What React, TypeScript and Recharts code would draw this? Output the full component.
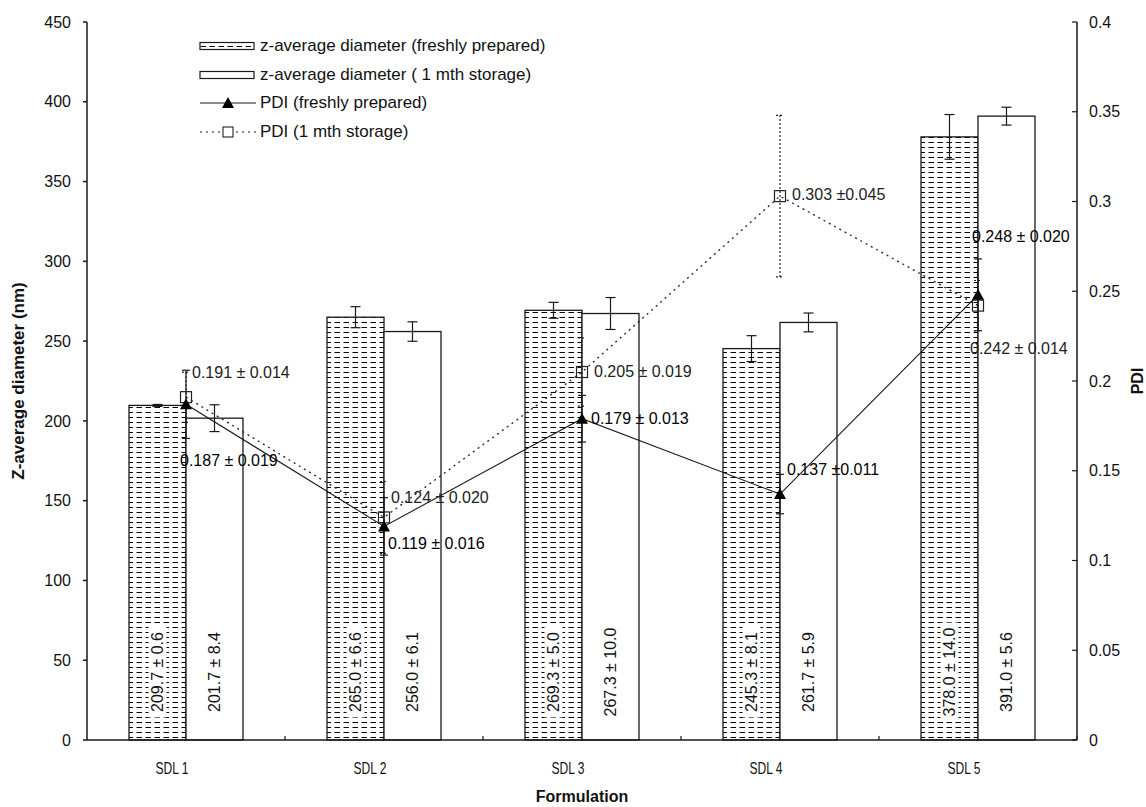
import React from 'react'
import { ComposedChart, Bar, Line, XAxis, YAxis, ErrorBar } from 'recharts'

const categories = ['SDL 1', 'SDL 2', 'SDL 3', 'SDL 4', 'SDL 5']
const zaveFresh = [209.7, 265.0, 269.3, 245.3, 378.0]
const zaveFreshSd = [0.6, 6.6, 5.0, 8.1, 14.0]
const zaveStored = [201.7, 256.0, 267.3, 261.7, 391.0]
const zaveStoredSd = [8.4, 6.1, 10.0, 5.9, 5.6]
const pdiFresh = [0.187, 0.119, 0.179, 0.137, 0.248]
const pdiFreshSd = [0.019, 0.016, 0.013, 0.011, 0.020]
const pdiStored = [0.191, 0.124, 0.205, 0.303, 0.242]
const pdiStoredSd = [0.014, 0.020, 0.019, 0.045, 0.014]
const pdiLabelGap = [' ', ' ', ' ', '', ' ']
const leftTicks = [0, 50, 100, 150, 200, 250, 300, 350, 400, 450]
const rightTicks = [0, 0.05, 0.1, 0.15, 0.2, 0.25, 0.3, 0.35, 0.4]

// chart geometry
const W = 1146
const H = 807
const PLOT_LEFT = 87
const PLOT_RIGHT = 1077
const PLOT_TOP = 22
const PLOT_BOTTOM = 740
const BAND = (PLOT_RIGHT - PLOT_LEFT) / categories.length

// where the PDI value labels sit relative to their point (dx, dy)
const FRESH_LABEL_OFFSET = [[-6, 56], [4, 17], [9, 0], [7, -25], [-6, -58]]
const STORED_LABEL_OFFSET = [[6, -25], [7, -20], [12, -1], [12, -2], [-8, 43]]

const FONT = "'Liberation Sans', Arial, sans-serif"
const INK = '#1a1a1a'

const data = categories.map((name, i) => ({
  name,
  zFresh: zaveFresh[i],
  zFreshSd: zaveFreshSd[i],
  zStored: zaveStored[i],
  zStoredSd: zaveStoredSd[i],
  pFresh: pdiFresh[i],
  pFreshSd: pdiFreshSd[i],
  pStored: pdiStored[i],
  pStoredSd: pdiStoredSd[i],
  pFreshLabel: `${pdiFresh[i].toFixed(3)} ±${pdiLabelGap[i]}${pdiFreshSd[i].toFixed(3)}`,
  pStoredLabel: `${pdiStored[i].toFixed(3)} ±${pdiLabelGap[i]}${pdiStoredSd[i].toFixed(3)}`,
}))

function barShape(kind: 'fresh' | 'stored') {
  return (props: any) => {
    const { x, y, width, height, payload } = props
    const val = kind === 'fresh' ? payload.zFresh : payload.zStored
    const sd = kind === 'fresh' ? payload.zFreshSd : payload.zStoredSd
    const label = `${val.toFixed(1)} ± ${sd.toFixed(1)}`
    const cx = x + width / 2
    const cy = y + height - 68
    const len = label.length * 7.9 + 4
    return (
      <g>
        <rect
          x={x}
          y={y}
          width={width}
          height={height}
          fill={kind === 'fresh' ? 'url(#zaveDash)' : '#ffffff'}
          stroke={INK}
          strokeWidth={1.3}
        />
        {kind === 'fresh' && (
          <rect x={cx - 9} y={cy - len / 2} width={18} height={len} fill="#ffffff" />
        )}
        <text
          x={cx}
          y={cy}
          transform={`rotate(-90 ${cx} ${cy})`}
          textAnchor="middle"
          dominantBaseline="central"
          fontSize={16}
          fontFamily={FONT}
          fill="#111"
        >
          {label}
        </text>
      </g>
    )
  }
}

function freshDot(props: any) {
  const { cx, cy, index, payload } = props
  const [dx, dy] = FRESH_LABEL_OFFSET[index]
  return (
    <g key={`fd-${index}`}>
      <path d={`M${cx},${cy - 6} L${cx + 6},${cy + 5} L${cx - 6},${cy + 5} Z`} fill="#000" />
      <text x={cx + dx} y={cy + dy} dominantBaseline="central" fontSize={16} fontFamily={FONT} fill="#000">
        {payload.pFreshLabel}
      </text>
    </g>
  )
}

function storedDot(props: any) {
  const { cx, cy, index, payload } = props
  const [dx, dy] = STORED_LABEL_OFFSET[index]
  return (
    <g key={`sd-${index}`}>
      <rect x={cx - 5.5} y={cy - 5.5} width={11} height={11} fill="none" stroke="#222" strokeWidth={1.2} />
      <text x={cx + dx} y={cy + dy} dominantBaseline="central" fontSize={16} fontFamily={FONT} fill="#222">
        {payload.pStoredLabel}
      </text>
    </g>
  )
}

function CategoryTick(props: any) {
  const { x, y, payload } = props
  const edge = x + BAND / 2
  return (
    <g>
      <line x1={edge} y1={PLOT_BOTTOM} x2={edge} y2={PLOT_BOTTOM - 4} stroke={INK} strokeWidth={1.2} />
      <text
        x={x - 14}
        y={y + 26}
        textAnchor="middle"
        fontSize={17}
        fontFamily={FONT}
        fill="#111"
        textLength={33}
        lengthAdjust="spacingAndGlyphs"
      >
        {payload.value}
      </text>
    </g>
  )
}

function RightTick(props: any) {
  const { y, payload } = props
  return (
    <g>
      <line x1={PLOT_RIGHT - 5} y1={y} x2={PLOT_RIGHT} y2={y} stroke={INK} strokeWidth={1.2} />
      <text x={PLOT_RIGHT + 12} y={y} dominantBaseline="central" fontSize={16} fontFamily={FONT} fill="#111">
        {String(payload.value)}
      </text>
    </g>
  )
}

function LegendBox() {
  const rowH = 28.6
  const rows = [
    { label: 'z-average diameter (freshly prepared)', kind: 'fresh' },
    { label: 'z-average diameter ( 1 mth storage)', kind: 'stored' },
    { label: 'PDI (freshly prepared)', kind: 'pFresh' },
    { label: 'PDI (1 mth storage)', kind: 'pStored' },
  ]
  return (
    <div style={{ position: 'absolute', left: 199, top: 32, fontFamily: FONT, fontSize: 17, color: '#111' }}>
      {rows.map(r => (
        <div key={r.label} style={{ display: 'flex', alignItems: 'center', height: rowH }}>
          <svg width={58} height={14} style={{ marginRight: 3 }}>
            {r.kind === 'fresh' && (
              <rect x={1} y={3.5} width={54} height={7} fill="url(#zaveDash)" stroke={INK} strokeWidth={1.2} />
            )}
            {r.kind === 'stored' && (
              <rect x={1} y={3.5} width={54} height={7} fill="#fff" stroke={INK} strokeWidth={1.2} />
            )}
            {r.kind === 'pFresh' && (
              <g>
                <line x1={1} y1={7} x2={57} y2={7} stroke={INK} strokeWidth={1.1} />
                <path d="M29,1 L35,12 L23,12 Z" fill="#000" />
              </g>
            )}
            {r.kind === 'pStored' && (
              <g>
                <line x1={1} y1={7} x2={57} y2={7} stroke={INK} strokeWidth={1.2} strokeDasharray="2 4" />
                <rect x={24} y={2} width={10} height={10} fill="#fff" stroke="#222" strokeWidth={1.1} />
              </g>
            )}
          </svg>
          <span>{r.label}</span>
        </div>
      ))}
    </div>
  )
}

export default function App() {
  return (
    <div style={{ position: 'absolute', left: 0, top: 0, width: W, height: H, background: '#fff', fontFamily: FONT }}>
      <svg width={0} height={0} style={{ position: 'absolute' }}>
        <defs>
          <pattern id="zaveDash" patternUnits="userSpaceOnUse" width={9} height={5}>
            <line x1={1.5} y1={2.5} x2={7} y2={2.5} stroke="#000" strokeWidth={1} />
          </pattern>
        </defs>
      </svg>
      <ComposedChart
        width={W}
        height={H}
        data={data}
        margin={{ top: PLOT_TOP, right: 0, bottom: 37, left: 27 }}
        barGap={0}
      >
        <XAxis
          dataKey="name"
          height={30}
          stroke={INK}
          strokeWidth={1.5}
          tickLine={false}
          tick={<CategoryTick />}
          label={{
            value: 'Formulation',
            position: 'insideBottom',
            offset: -32,
            style: { fontSize: 16, fontWeight: 700, fontFamily: FONT, fill: '#111' },
          }}
        />
        <YAxis
          yAxisId="left"
          width={60}
          domain={[0, 450]}
          ticks={leftTicks}
          interval={0}
          stroke={INK}
          strokeWidth={1.5}
          tickSize={4}
          tickMargin={12}
          tick={{ fontSize: 16, fontFamily: FONT, fill: '#111' }}
          label={{
            value: 'Z-average diameter (nm)',
            angle: -90,
            position: 'insideLeft',
            offset: -9,
            style: { fontSize: 17, fontWeight: 700, fontFamily: FONT, fill: '#111', textAnchor: 'middle' },
          }}
        />
        <YAxis
          yAxisId="right"
          orientation="right"
          width={69}
          domain={[0, 0.4]}
          ticks={rightTicks}
          interval={0}
          stroke={INK}
          strokeWidth={1.5}
          tickLine={false}
          tick={<RightTick />}
          label={{
            value: 'PDI',
            angle: -90,
            position: 'insideRight',
            offset: 9,
            style: { fontSize: 16, fontWeight: 700, fontFamily: FONT, fill: '#111', textAnchor: 'middle' },
          }}
        />
        <Bar yAxisId="left" dataKey="zFresh" barSize={57} shape={barShape('fresh')} isAnimationActive={false}>
          <ErrorBar dataKey="zFreshSd" width={5} stroke={INK} strokeWidth={1.2} />
        </Bar>
        <Bar yAxisId="left" dataKey="zStored" barSize={57} shape={barShape('stored')} isAnimationActive={false}>
          <ErrorBar dataKey="zStoredSd" width={5} stroke={INK} strokeWidth={1.2} />
        </Bar>
        <Line
          yAxisId="right"
          dataKey="pStored"
          stroke="#222"
          strokeWidth={1.3}
          strokeDasharray="2 4"
          dot={storedDot}
          activeDot={false}
          isAnimationActive={false}
        >
          <ErrorBar dataKey="pStoredSd" width={4} stroke="#222" strokeWidth={1.2} strokeDasharray="2 2" />
        </Line>
        <Line
          yAxisId="right"
          dataKey="pFresh"
          stroke={INK}
          strokeWidth={1.1}
          dot={freshDot}
          activeDot={false}
          isAnimationActive={false}
        >
          <ErrorBar dataKey="pFreshSd" width={4} stroke={INK} strokeWidth={1.2} />
        </Line>
      </ComposedChart>
      <LegendBox />
    </div>
  )
}
